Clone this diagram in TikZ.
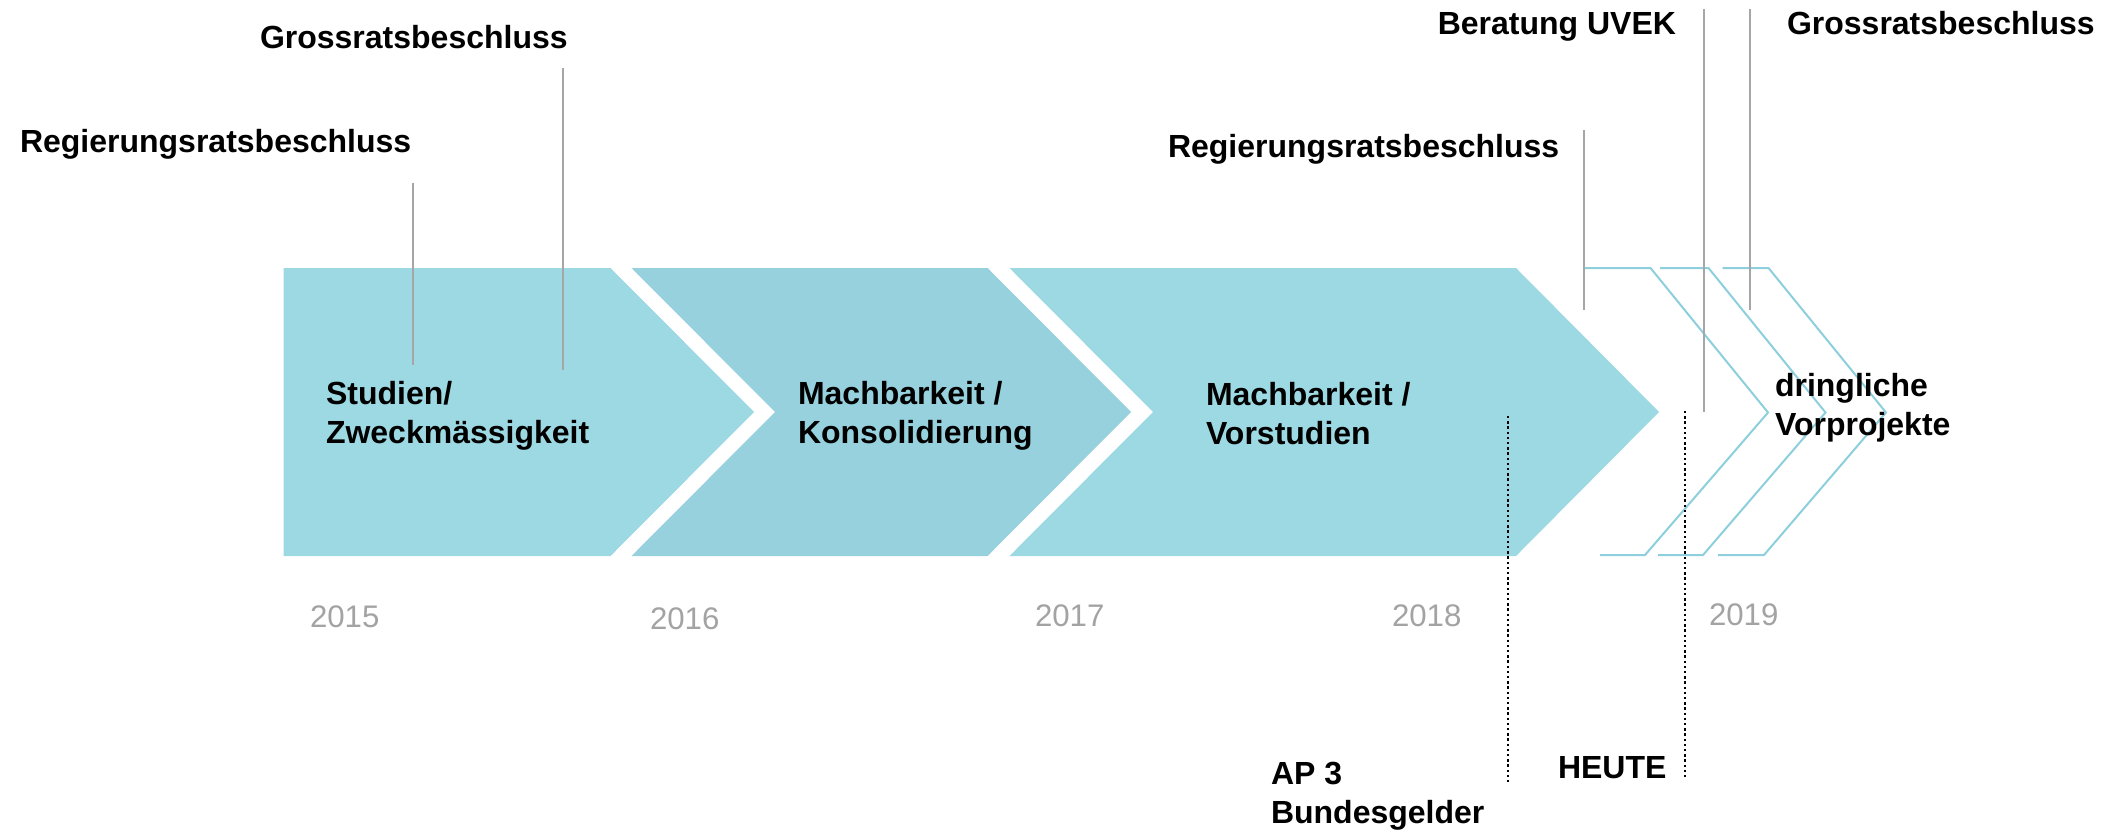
\documentclass[tikz,border=0pt]{standalone}
\usepackage{fontspec}
\setmainfont{Liberation Sans}
\definecolor{chevA}{HTML}{9DD9E3}
\definecolor{chevB}{HTML}{96D1DD}
\definecolor{chevline}{HTML}{8DCFDC}
\definecolor{mgray}{HTML}{A6A6A6}
\definecolor{ygray}{HTML}{A3A3A3}
\tikzset{
  lbl/.style={inner sep=0pt, outer sep=0pt, font=\fontsize{16}{19.5}\selectfont\bfseries, text=black, align=left},
  yearlbl/.style={inner sep=0pt, outer sep=0pt, font=\fontsize{15.6}{18}\selectfont, text=ygray, anchor=base west},
  marker/.style={draw=mgray, line width=1pt},
  todayline/.style={draw=black, line width=1.2pt, dash pattern=on 1.2pt off 1.4pt},
  openchev/.style={draw=chevline, line width=1pt},
}
\begin{document}
\begin{tikzpicture}[x=0.5pt, y=-0.5pt]
\useasboundingbox (0,0) rectangle (2113,830);
\fill[white] (0,0) rectangle (2113,830);
% filled chevrons
\fill[chevA] (283.5,268) -- (610.5,268) -- (754,412) -- (610.5,556) -- (283.5,556) -- cycle;
\fill[chevB] (631.5,268) -- (987.5,268) -- (1131,412) -- (987.5,556) -- (631.5,556) -- (775,412) -- cycle;
\fill[chevA] (1009.5,268) -- (1516,268) -- (1659,412) -- (1516,556) -- (1009.5,556) -- (1153,412) -- cycle;
% open chevrons
\draw[openchev] (1584,268) -- (1650.5,268) -- (1768,412.5) -- (1645,555) -- (1600,555);
\draw[openchev] (1660,268) -- (1708.5,268) -- (1825.5,412.5) -- (1703,555) -- (1658,555);
\draw[openchev] (1722.5,268) -- (1768.5,268) -- (1886,412.5) -- (1764,555) -- (1718,555);
% marker lines
\coordinate (m1t) at (412.5,183); \coordinate (m1b) at (412.5,365);
\coordinate (m2t) at (563,68); \coordinate (m2b) at (563,370);
\coordinate (m3t) at (1583.6,130); \coordinate (m3b) at (1583.6,310);
\coordinate (m4t) at (1704,8.5); \coordinate (m4b) at (1704,411.5);
\coordinate (m5t) at (1750,8.5); \coordinate (m5b) at (1750,310);
\draw[marker] (m1t) -- (m1b);
\draw[marker] (m2t) -- (m2b);
\draw[marker] (m3t) -- (m3b);
\draw[marker] (m4t) -- (m4b);
\draw[marker] (m5t) -- (m5b);
% dotted lines
\coordinate (d1t) at (1508,416); \coordinate (d1b) at (1508,782);
\coordinate (d2t) at (1685,411); \coordinate (d2b) at (1685,778);
\draw[todayline] (d1t) -- (d1b);
\draw[todayline] (d2t) -- (d2b);
% milestone labels
\node[lbl, anchor=base west] (rr1) at (20,152) {Regierungsratsbeschluss};
\node[lbl, anchor=base west] (gr1) at (260,48) {Grossratsbeschluss};
\node[lbl, anchor=base west] (rr2) at (1168,157) {Regierungsratsbeschluss};
\node[lbl, anchor=base east] (uvek) at (1676,34) {Beratung UVEK};
\node[lbl, anchor=base west] (gr2) at (1787,34) {Grossratsbeschluss};
% phase labels (base = baseline of last line)
\node[lbl, anchor=base west] (p1) at (326,443) {Studien/\\Zweckmässigkeit};
\node[lbl, anchor=base west] (p2) at (798,443) {Machbarkeit /\\Konsolidierung};
\node[lbl, anchor=base west] (p3) at (1206,444) {Machbarkeit /\\Vorstudien};
\node[lbl, anchor=base west] (p4) at (1775,435) {dringliche\\Vorprojekte};
% bottom labels
\node[lbl, anchor=base west] (ap3) at (1271,823) {AP 3\\Bundesgelder};
\node[lbl, anchor=base west] (heute) at (1558,778) {HEUTE};
% years
\node[yearlbl] (y15) at (310,627) {2015};
\node[yearlbl] (y16) at (650,629) {2016};
\node[yearlbl] (y17) at (1035,626) {2017};
\node[yearlbl] (y18) at (1392,626) {2018};
\node[yearlbl] (y19) at (1709,625) {2019};
\end{tikzpicture}
\end{document}
